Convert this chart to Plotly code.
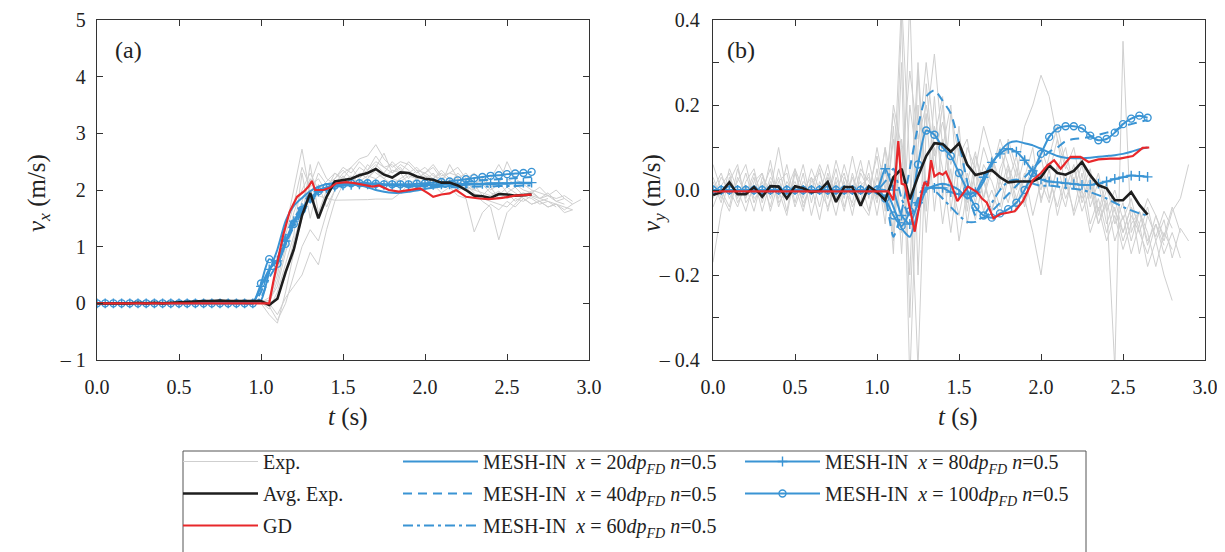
import plotly.graph_objects as go

# ---- time grids (s) ----
t_sim = [0.0, 0.05, 0.1, 0.15, 0.2, 0.25, 0.3, 0.35, 0.4, 0.45, 0.5, 0.55, 0.6, 0.65, 0.7, 0.75, 0.8, 0.85, 0.9, 0.95,
         1.0, 1.05, 1.1, 1.15, 1.2, 1.25, 1.3, 1.35, 1.4, 1.45, 1.5, 1.55, 1.6, 1.65, 1.7, 1.75, 1.8, 1.85, 1.9, 1.95,
         2.0, 2.05, 2.1, 2.15, 2.2, 2.25, 2.3, 2.35, 2.4, 2.45, 2.5, 2.55, 2.6, 2.65]
t_exp_a = [0.0, 0.1, 0.2, 0.3, 0.4, 0.5, 0.6, 0.7, 0.8, 0.9,
           1.0, 1.05, 1.1, 1.15, 1.2, 1.25, 1.3, 1.35, 1.4, 1.45, 1.5, 1.55, 1.6, 1.65, 1.7, 1.75, 1.8, 1.85, 1.9, 1.95,
           2.0, 2.05, 2.1, 2.15, 2.2, 2.25, 2.3, 2.35, 2.4, 2.45, 2.5, 2.55, 2.6, 2.65, 2.7, 2.75, 2.8, 2.85, 2.9, 2.95]
t_exp_b = t_sim + [2.7, 2.75, 2.8, 2.85, 2.9]

# tick labels
ticks_va = [-1, 0, 1, 2, 3, 4, 5]
ticktext_va = ["\u2013 1", "0", "1", "2", "3", "4", "5"]
ticks_vb = [-0.4, -0.3, -0.2, -0.1, 0.0, 0.1, 0.2, 0.3, 0.4]
ticktext_vb = ["\u2013 0.4", " ", "\u2013 0.2", " ", "0.0", " ", "0.2", " ", "0.4"]

# ---- (a) vx : experiments ----
exp_a = [
    [0.0, 0.01, 0.0, 0.02, 0.01, 0.0, 0.03, 0.05, 0.04, 0.03,
     0.02, 0.1, 0.6, 1.3, 2.0, 2.72, 1.9, 2.3, 2.1, 2.2, 2.35, 2.2, 2.4, 2.3, 2.45, 2.3, 2.5, 2.35, 2.3, 2.4,
     2.25, 2.2, 2.3, 2.15, 2.2, 2.05, 2.0, 1.95, 1.9, 1.98, 1.85, 1.9, 1.95, 1.88, 1.8, 1.85],
    [0.0, 0.0, -0.01, 0.01, 0.0, 0.02, 0.01, 0.03, 0.02, 0.01,
     0.0, -0.2, -0.35, 0.2, 0.9, 1.5, 2.45, 1.6, 2.0, 2.3, 2.2, 2.4, 2.55, 2.6, 2.8, 2.55, 2.4, 2.5, 2.45, 2.3,
     2.4, 2.25, 2.2, 2.3, 2.25, 2.1, 1.95, 1.8, 1.7, 1.12, 1.6, 1.75, 1.9, 1.85, 1.75, 1.8, 1.7],
    [0.0, 0.0, 0.01, 0.0, 0.0, 0.01, 0.02, 0.02, 0.03, 0.02,
     0.01, 0.0, -0.2, 0.1, 0.3, 0.5, 0.9, 0.68, 1.3, 1.8, 2.1, 2.2, 2.15, 2.25, 2.2, 2.3, 2.2, 2.15, 2.25, 2.2,
     2.1, 2.15, 2.05, 2.1, 2.0, 2.05, 1.9, 1.85, 1.8, 1.75, 1.7, 1.85, 1.8, 1.9, 1.85, 1.8, 1.75, 1.7, 1.65],
    [0.0, 0.01, 0.0, 0.0, 0.02, 0.01, 0.02, 0.04, 0.03, 0.02,
     0.03, 0.05, 0.3, 0.9, 1.4, 1.8, 2.2, 1.9, 1.85, 1.82, 1.82, 1.83, 1.83, 1.83, 1.84, 1.84, 1.84, 1.95, 2.1, 2.0,
     2.05, 2.1, 1.95, 2.05, 1.9, 1.85, 1.26, 1.6, 1.75, 1.65, 1.8, 1.7, 1.85, 1.75, 1.8, 1.7, 1.75, 1.6, 1.65],
    [0.0, 0.0, 0.0, 0.01, 0.01, 0.02, 0.03, 0.04, 0.05, 0.04,
     0.02, -0.1, 0.2, 0.7, 1.2, 2.3, 1.5, 2.1, 1.7, 2.0, 2.2, 2.1, 2.3, 2.2, 2.4, 2.65, 2.3, 2.4, 2.2, 2.35,
     2.15, 2.3, 2.1, 2.45, 2.2, 2.3, 2.1, 2.2, 2.0, 2.1, 2.5, 2.2, 2.1, 2.0, 1.95, 1.9, 2.0, 1.85],
    [0.0, -0.01, 0.0, 0.0, 0.01, 0.0, 0.01, 0.02, 0.01, 0.02,
     0.0, -0.05, -0.3, 0.0, 0.5, 1.0, 1.3, 1.1, 1.6, 2.0, 2.25, 2.1, 2.2, 2.45, 2.3, 2.2, 2.35, 2.3, 2.1, 2.2,
     2.3, 2.2, 2.35, 2.2, 2.1, 2.2, 2.3, 2.1, 2.2, 2.45, 2.2, 2.1, 2.0, 1.95, 2.05, 1.9, 1.85, 1.9, 1.8],
    [0.0, 0.0, 0.01, 0.01, 0.0, 0.0, 0.02, 0.03, 0.03, 0.04,
     0.03, 0.0, 0.4, 1.0, 1.6, 2.0, 2.3, 2.0, 2.15, 2.3, 2.15, 2.25, 2.1, 2.2, 2.35, 2.2, 2.1, 2.2, 2.3, 2.2,
     2.25, 2.1, 2.2, 2.05, 2.15, 2.0, 2.1, 1.9, 2.05, 1.85, 1.95, 1.8, 1.9, 1.95, 1.85, 1.9, 1.8, 1.85, 1.75],
    [0.0, 0.0, 0.0, -0.01, 0.0, 0.01, 0.01, 0.02, 0.02, 0.03,
     0.02, 0.0, 0.1, 0.5, 1.1, 1.6, 2.1, 2.5, 2.2, 2.1, 2.3, 2.4, 2.2, 2.35, 2.5, 2.4, 2.3, 2.45, 2.35, 2.2,
     2.3, 2.4, 2.2, 2.1, 2.3, 2.15, 2.0, 2.1, 1.95, 1.9, 2.05, 1.95, 1.85, 1.75, 1.8, 1.7, 1.75, 1.65, 1.75, 1.83],
    [0.0, 0.0, 0.0, 0.0, 0.01, 0.0, 0.0, 0.01, 0.02, 0.02,
     0.01, 0.05, 0.5, 1.2, 1.75, 2.4, 2.05, 2.2, 1.95, 2.2, 2.4, 2.3, 2.5, 2.35, 2.6, 2.4, 2.45, 2.3, 2.5, 2.35,
     2.3, 2.45, 2.25, 2.3, 2.4, 2.2, 2.1, 2.25, 2.05, 2.15, 1.95, 2.05, 1.9, 1.98, 1.85, 1.95, 1.8, 1.75],
]
avg_a = [0.0, 0.0, -0.01, 0.0, 0.0, 0.01, 0.0, 0.01, 0.0, 0.01, 0.02, 0.02, 0.03, 0.04, 0.04, 0.05, 0.04, 0.04, 0.05, 0.04,
         0.04, -0.03, 0.08, 0.55, 0.95, 1.55, 1.95, 1.5, 1.88, 2.15, 2.17, 2.2, 2.26, 2.3, 2.37, 2.27, 2.22, 2.31, 2.3, 2.24,
         2.2, 2.18, 2.13, 2.13, 2.08, 2.0, 1.9, 1.89, 1.86, 1.93, 1.92, 1.9, 1.91, 1.92]
t_gd_a = [0.0, 1.05, 1.075, 1.105, 1.135, 1.175, 1.22, 1.26, 1.29, 1.31, 1.33, 1.38, 1.42, 1.46, 1.52, 1.57, 1.62,
          1.68, 1.72, 1.78, 1.84, 1.9, 1.97, 2.02, 2.05, 2.1, 2.15, 2.19, 2.25, 2.33, 2.39, 2.47, 2.55, 2.65]
gd_a = [0.0, 0.0, 0.38, 0.79, 1.2, 1.62, 1.88, 1.97, 2.06, 2.16, 2.0, 2.0, 2.04, 2.12, 2.14, 2.12, 2.09,
        2.06, 2.08, 2.0, 1.97, 2.0, 2.03, 1.94, 1.88, 1.92, 1.94, 2.0, 1.88, 1.85, 1.84, 1.86, 1.9, 1.92]
mesh_a = {
    20: [0.0] * 20 + [0.05, 0.55, 0.95, 1.45, 1.72, 1.86, 1.98, 2.06, 2.1, 2.12, 2.12, 2.1, 2.08, 2.05, 2.0, 1.97, 1.95,
                      1.95, 1.97, 1.99, 2.02, 2.04, 2.06, 2.07, 2.08, 2.09, 2.1, 2.1, 2.1, 2.11, 2.11, 2.12, 2.12, 2.12],
    40: [0.0] * 20 + [0.2, 0.6, 0.8, 1.2, 1.5, 1.7, 1.85, 1.97, 2.05, 2.08, 2.1, 2.12, 2.13, 2.13, 2.12, 2.1, 2.08,
                      2.07, 2.06, 2.06, 2.07, 2.08, 2.09, 2.1, 2.12, 2.14, 2.16, 2.17, 2.18, 2.19, 2.2, 2.21, 2.22, 2.23],
    60: [0.0] * 20 + [0.1, 0.45, 0.7, 1.05, 1.35, 1.6, 1.8, 1.95, 2.02, 2.05, 2.08, 2.1, 2.11, 2.11, 2.1, 2.09, 2.08,
                      2.08, 2.07, 2.07, 2.06, 2.06, 2.06, 2.05, 2.05, 2.05, 2.06, 2.06, 2.06, 2.07, 2.07, 2.07, 2.08, 2.08],
    80: [0.0] * 20 + [0.3, 0.6, 0.75, 1.1, 1.45, 1.68, 1.85, 1.97, 2.03, 2.06, 2.08, 2.09, 2.1, 2.1, 2.1, 2.09, 2.09,
                      2.08, 2.08, 2.08, 2.09, 2.09, 2.1, 2.1, 2.1, 2.11, 2.11, 2.11, 2.12, 2.12, 2.12, 2.13, 2.13, 2.13],
    100: [0.0] * 20 + [0.35, 0.78, 0.7, 1.05, 1.4, 1.65, 1.85, 1.98, 2.05, 2.08, 2.1, 2.12, 2.12, 2.12, 2.11, 2.1, 2.1,
                       2.1, 2.1, 2.11, 2.12, 2.13, 2.14, 2.15, 2.17, 2.19, 2.21, 2.23, 2.25, 2.26, 2.28, 2.29, 2.3, 2.32],
}

# ---- (b) vy : experiments ----
exp_b = [
    [-0.17, -0.05, 0.03, -0.02, 0.04, -0.03, 0.02, -0.04, 0.05, -0.02, 0.01, -0.05, 0.03, -0.01, 0.06, -0.03, 0.02, -0.06,
     0.04, 0.0, 0.08, -0.05, 0.12, -0.1, 0.45, -0.2, 0.25, 0.05, 0.2, -0.05, 0.1, -0.08, 0.05, -0.02, 0.08, 0.0, 0.06,
     -0.04, 0.03, 0.1, -0.03, 0.05, -0.06, 0.02, -0.05, 0.04, -0.08, -0.02, -0.1, -0.04, -0.12, -0.06, -0.1, -0.15, -0.08, -0.13],
    [0.06, 0.0, -0.04, 0.05, -0.02, 0.03, -0.05, 0.02, -0.02, 0.06, -0.03, 0.04, -0.06, 0.02, -0.02, 0.05, -0.04, 0.03,
     -0.03, 0.07, -0.02, 0.1, -0.15, 0.3, -0.45, 0.1, 0.3, 0.12, 0.22, 0.0, 0.15, -0.05, 0.08, 0.02, -0.05, 0.05, 0.1,
     0.03, 0.15, 0.2, 0.27, 0.22, 0.12, 0.05, 0.1, 0.0, 0.05, -0.05, 0.02, -0.08, -0.03, -0.12, -0.05, -0.1, -0.18, -0.1, -0.14],
    [0.02, -0.03, 0.05, 0.0, -0.05, 0.02, 0.04, -0.02, 0.03, -0.05, 0.05, 0.0, 0.03, -0.04, 0.04, -0.02, 0.06, -0.01,
     0.02, -0.05, 0.05, -0.08, 0.15, -0.15, 0.2, 0.05, 0.18, -0.05, 0.12, 0.02, -0.06, 0.04, -0.03, 0.06, 0.02, -0.04,
     0.05, -0.02, 0.04, -0.06, 0.02, -0.03, 0.06, -0.02, 0.03, -0.05, 0.0, -0.08, -0.03, -0.42, 0.35, -0.1, -0.05, -0.12,
     -0.08, -0.15, -0.1, -0.16],
    [0.0, 0.04, -0.02, 0.02, 0.06, -0.02, 0.0, 0.05, -0.04, 0.02, -0.01, 0.06, -0.03, 0.05, -0.05, 0.03, -0.02, 0.08,
     -0.01, 0.04, -0.06, 0.05, -0.1, 0.4, -0.3, 0.2, -0.1, 0.15, 0.05, -0.1, 0.05, -0.03, 0.04, -0.05, 0.0, -0.06, 0.03,
     -0.05, -0.02, -0.1, -0.2, -0.05, 0.02, -0.04, 0.05, -0.02, 0.03, -0.06, 0.0, -0.05, -0.1, -0.04, -0.08, -0.02, -0.06,
     -0.12, -0.05, -0.02, 0.06],
    [-0.02, 0.03, 0.0, -0.04, 0.02, 0.05, -0.03, 0.03, 0.0, -0.06, 0.04, -0.02, 0.05, 0.0, -0.04, 0.02, -0.05, 0.04,
     -0.03, -0.06, 0.03, -0.04, 0.2, 0.1, -0.2, 0.28, -0.05, 0.22, -0.02, 0.18, 0.08, 0.12, 0.0, 0.1, 0.04, 0.12, 0.06,
     0.0, 0.08, 0.03, 0.1, 0.04, 0.12, 0.0, 0.06, -0.03, 0.02, -0.08, -0.02, -0.12, -0.06, -0.15, -0.08, -0.18, -0.12,
     -0.2, -0.26],
    [0.03, -0.02, 0.02, 0.06, -0.03, 0.0, 0.04, -0.05, 0.02, 0.04, -0.04, 0.02, 0.0, 0.06, 0.01, -0.06, 0.03, 0.0, 0.07,
     -0.02, 0.1, 0.0, 0.18, 0.05, 0.28, 0.12, 0.2, 0.08, 0.16, 0.06, 0.12, 0.02, 0.09, -0.02, 0.05, 0.1, 0.02, 0.08,
     -0.03, 0.05, 0.0, 0.08, 0.15, 0.06, 0.02, 0.08, -0.02, 0.04, -0.05, 0.0, -0.07, -0.02, -0.1, -0.04, -0.12, -0.07,
     -0.16, -0.09, -0.12],
    [-0.04, 0.01, 0.04, -0.03, 0.01, -0.05, 0.03, 0.0, 0.1, -0.01, 0.02, -0.03, 0.01, -0.07, 0.03, 0.0, 0.04, -0.04,
     0.01, 0.03, -0.03, 0.06, -0.12, 0.12, -0.05, 0.3, 0.0, 0.1, -0.08, 0.05, -0.12, 0.0, -0.07, 0.03, -0.05, 0.02, -0.03,
     0.05, 0.0, 0.06, -0.02, 0.03, -0.04, 0.04, -0.06, 0.0, -0.1, -0.04, -0.12, -0.06, -0.14, -0.08, -0.05, -0.13, -0.06,
     -0.11, -0.04, -0.1],
    [0.01, -0.01, -0.05, 0.03, -0.01, 0.04, -0.02, 0.07, -0.03, 0.0, 0.05, -0.04, 0.02, 0.04, -0.02, 0.07, 0.0, -0.03,
     0.05, 0.02, -0.02, 0.1, 0.0, 0.45, 0.05, -0.42, 0.15, 0.32, 0.1, 0.2, -0.02, 0.1, 0.05, 0.15, 0.08, 0.02, 0.12,
     0.05, -0.04, 0.04, 0.08, -0.02, 0.05, 0.1, 0.0, 0.06, -0.04, 0.02, -0.08, -0.02, -0.1, -0.04, -0.15, -0.06, -0.11,
     -0.05, -0.09],
]
avg_b = [-0.012, -0.005, 0.018, -0.01, -0.01, 0.007, -0.016, 0.009, 0.008, -0.02, 0.009, 0.004, -0.005, -0.002, 0.019,
         -0.028, 0.007, 0.007, -0.037, 0.009, -0.005, -0.024, 0.03, 0.05, -0.022, 0.032, 0.08, 0.11, 0.108, 0.09, 0.11,
         0.06, 0.035, 0.04, 0.047, 0.03, 0.018, 0.02, 0.02, 0.02, 0.03, 0.058, 0.04, 0.036, 0.045, 0.066, 0.035, 0.011,
         0.004, -0.024, -0.024, -0.005, -0.035, -0.058]
t_gd_b = [0.0, 1.07, 1.1, 1.13, 1.15, 1.17, 1.23, 1.27, 1.29, 1.31, 1.33, 1.35, 1.38, 1.4, 1.42, 1.45, 1.49, 1.555,
          1.61, 1.64, 1.67, 1.71, 1.75, 1.84, 1.89, 1.95, 2.0, 2.04, 2.08, 2.12, 2.18, 2.24, 2.29, 2.35, 2.42, 2.48,
          2.56, 2.62, 2.66]
gd_b = [-0.003, -0.003, -0.024, 0.115, 0.015, 0.012, -0.098, -0.012, 0.019, 0.009, 0.07, 0.032, 0.04, 0.036, 0.043,
        0.016, -0.026, 0.008, -0.005, -0.02, -0.03, -0.067, -0.057, -0.05, -0.026, 0.023, 0.04, 0.058, 0.07, 0.05,
        0.078, 0.078, 0.066, 0.072, 0.074, 0.074, 0.08, 0.099, 0.1]
mesh_b = {
    20: [0.0] * 20 + [0.0, 0.0, -0.04, -0.09, -0.11, -0.05, 0.0, 0.01, 0.015, 0.01, 0.0, -0.02, -0.01, 0.02, 0.06, 0.09,
                      0.11, 0.115, 0.11, 0.105, 0.097, 0.088, 0.08, 0.076, 0.075, 0.075, 0.076, 0.078, 0.08, 0.082,
                      0.085, 0.09, 0.096, 0.1],
    40: [0.0] * 20 + [0.0, -0.02, -0.11, -0.05, 0.05, 0.15, 0.22, 0.235, 0.21, 0.18, 0.11, 0.02, -0.06, -0.065, -0.05,
                      -0.03, -0.01, 0.01, 0.03, 0.05, 0.07, 0.09, 0.1, 0.115, 0.12, 0.122, 0.125, 0.13, 0.135, 0.14,
                      0.15, 0.155, 0.16, 0.165],
    60: [0.0] * 20 + [0.0, 0.02, 0.05, -0.02, -0.06, -0.02, 0.02, 0.0, -0.02, -0.04, -0.06, -0.075, -0.075, -0.06,
                      -0.03, 0.0, 0.02, 0.025, 0.02, 0.015, 0.01, 0.01, 0.008, 0.005, 0.003, 0.0, -0.005, -0.012, -0.02,
                      -0.03, -0.04, -0.048, -0.055, -0.06],
    80: [0.0] * 20 + [0.0, 0.05, 0.0, -0.06, -0.08, -0.03, 0.005, 0.005, 0.005, -0.005, -0.01, -0.01, -0.005, 0.03,
                      0.065, 0.085, 0.097, 0.09, 0.07, 0.045, 0.025, 0.02, 0.018, 0.016, 0.014, 0.012, 0.012, 0.015,
                      0.02, 0.026, 0.03, 0.034, 0.033, 0.031],
    100: [0.0] * 20 + [0.0, -0.02, -0.06, -0.085, -0.05, 0.06, 0.14, 0.13, 0.1, 0.08, 0.04, 0.0, -0.04, -0.06, -0.065,
                       -0.055, -0.045, -0.03, 0.0, 0.04, 0.085, 0.125, 0.145, 0.15, 0.15, 0.145, 0.128, 0.117, 0.12,
                       0.135, 0.155, 0.168, 0.175, 0.17],
}

GRAY = "#cfcfcf"
BLUE = "#3a94d4"
RED = "#e8282b"
BLACK = "#1e1e1e"
FONT = "Liberation Serif, Times New Roman, Times, serif"
W, H = 1225, 552

mesh_style = {
    20: dict(dash="solid", symbol=None),
    40: dict(dash="9px,6px", symbol=None),
    60: dict(dash="10px,4px,3px,4px", symbol=None),
    80: dict(dash="solid", symbol="cross-thin"),
    100: dict(dash="solid", symbol="circle-open"),
}
mesh_legend = {20: "legend2", 40: "legend2", 60: "legend2", 80: "legend3", 100: "legend3"}

fig = go.Figure()

for panel, (exp, avg, t_gd, gd, mesh) in enumerate([(exp_a, avg_a, t_gd_a, gd_a, mesh_a),
                                                     (exp_b, avg_b, t_gd_b, gd_b, mesh_b)]):
    xa = "x" if panel == 0 else "x2"
    ya = "y" if panel == 0 else "y2"
    t_exp = t_exp_a if panel == 0 else t_exp_b
    first = panel == 0
    for i, v in enumerate(exp):
        fig.add_trace(go.Scatter(x=t_exp[:len(v)], y=v, mode="lines", line=dict(color=GRAY, width=1),
                                 name="Exp.", legend="legend", legendgroup="exp",
                                 showlegend=first and i == 0, xaxis=xa, yaxis=ya))
    for n in [20, 40, 60, 80, 100]:
        st = mesh_style[n]
        name = ("MESH-IN\u00a0\u00a0<i>x</i> = %d<i>dp</i><sub><i>FD</i></sub> <i>n</i>=0.5" % n)
        if st["symbol"] is None:
            fig.add_trace(go.Scatter(x=t_sim, y=mesh[n], mode="lines",
                                     line=dict(color=BLUE, width=2, dash=st["dash"], shape="spline", smoothing=0.6),
                                     name=name, legend=mesh_legend[n], legendgroup="m%d" % n,
                                     showlegend=first, xaxis=xa, yaxis=ya))
        else:
            fig.add_trace(go.Scatter(x=t_sim, y=mesh[n], mode="lines+markers",
                                     line=dict(color=BLUE, width=2, shape="spline", smoothing=0.6),
                                     marker=dict(symbol=st["symbol"], size=7, color=BLUE,
                                                 line=dict(color=BLUE, width=1.4)),
                                     name=name, legend=mesh_legend[n], legendgroup="m%d" % n,
                                     showlegend=first, xaxis=xa, yaxis=ya))
    fig.add_trace(go.Scatter(x=t_sim, y=avg, mode="lines", line=dict(color=BLACK, width=2.6),
                             name="Avg. Exp.", legend="legend", legendgroup="avg",
                             showlegend=first, xaxis=xa, yaxis=ya))
    fig.add_trace(go.Scatter(x=t_gd, y=gd, mode="lines", line=dict(color=RED, width=2.2),
                             name="GD", legend="legend", legendgroup="gd",
                             showlegend=first, xaxis=xa, yaxis=ya))

axis_common = dict(showgrid=False, zeroline=False, showline=True, linecolor="#333", linewidth=1.3,
                   ticks="inside", ticklen=6, tickwidth=1.2, tickcolor="#333", mirror="ticks",
                   tickfont=dict(family=FONT, size=20, color="#222"), automargin=False)

fig.update_layout(
    width=W, height=H, margin=dict(l=0, r=0, t=0, b=0),
    paper_bgcolor="white", plot_bgcolor="white",
    font=dict(family=FONT, color="#222"),
    xaxis=dict(domain=[89 / W, 581 / W], range=[0, 3], tick0=0, dtick=0.5, tickformat=".1f", anchor="y",
               ticklabelstandoff=9, **axis_common),
    yaxis=dict(domain=[200 / H, 540 / H], range=[-1, 5], anchor="x", ticklabelstandoff=6,
               tickvals=ticks_va, ticktext=ticktext_va, **axis_common),
    xaxis2=dict(domain=[705 / W, 1197 / W], range=[0, 3], tick0=0, dtick=0.5, tickformat=".1f", anchor="y2",
                ticklabelstandoff=9, **axis_common),
    yaxis2=dict(domain=[200 / H, 540 / H], range=[-0.4, 0.4], anchor="x2", ticklabelstandoff=8,
                tickvals=ticks_vb, ticktext=ticktext_vb, **axis_common),
)

leg_common = dict(bgcolor="rgba(0,0,0,0)", borderwidth=0, font=dict(family=FONT, size=20, color="#222"),
                  xanchor="left", yanchor="top", itemwidth=75, tracegroupgap=3, orientation="v")
fig.update_layout(
    legend=dict(x=170 / W, y=1 - 434 / H, **leg_common),
    legend2=dict(x=390 / W, y=1 - 434 / H, **leg_common),
    legend3=dict(x=732 / W, y=1 - 434 / H, **leg_common),
)

fig.add_shape(type="rect", xref="paper", yref="paper", x0=175 / W, x1=1078 / W, y0=1 - 548 / H, y1=1 - 443 / H,
              line=dict(color="#555", width=1))

ann = [
    dict(text="(a)", x=120 / W, y=1 - 42 / H, size=24),
    dict(text="(b)", x=733 / W, y=1 - 42 / H, size=24),
    dict(text="<i>t</i> (s)", x=340 / W, y=1 - 409 / H, size=25),
    dict(text="<i>t</i> (s)", x=950 / W, y=1 - 409 / H, size=25),
]
for a in ann:
    fig.add_annotation(text=a["text"], x=a["x"], y=a["y"], xref="paper", yref="paper", showarrow=False,
                       xanchor="center", yanchor="middle", font=dict(family=FONT, size=a["size"], color="#222"))
for txt, xc in [("<i>v</i><sub><i>x</i></sub> (m/s)", 30), ("<i>v</i><sub><i>y</i></sub> (m/s)", 645)]:
    fig.add_annotation(text=txt, x=xc / W, y=1 - 185 / H, xref="paper", yref="paper", showarrow=False,
                       xanchor="center", yanchor="middle", textangle=-90,
                       font=dict(family=FONT, size=25, color="#222"))

fig.write_html("out.html")
